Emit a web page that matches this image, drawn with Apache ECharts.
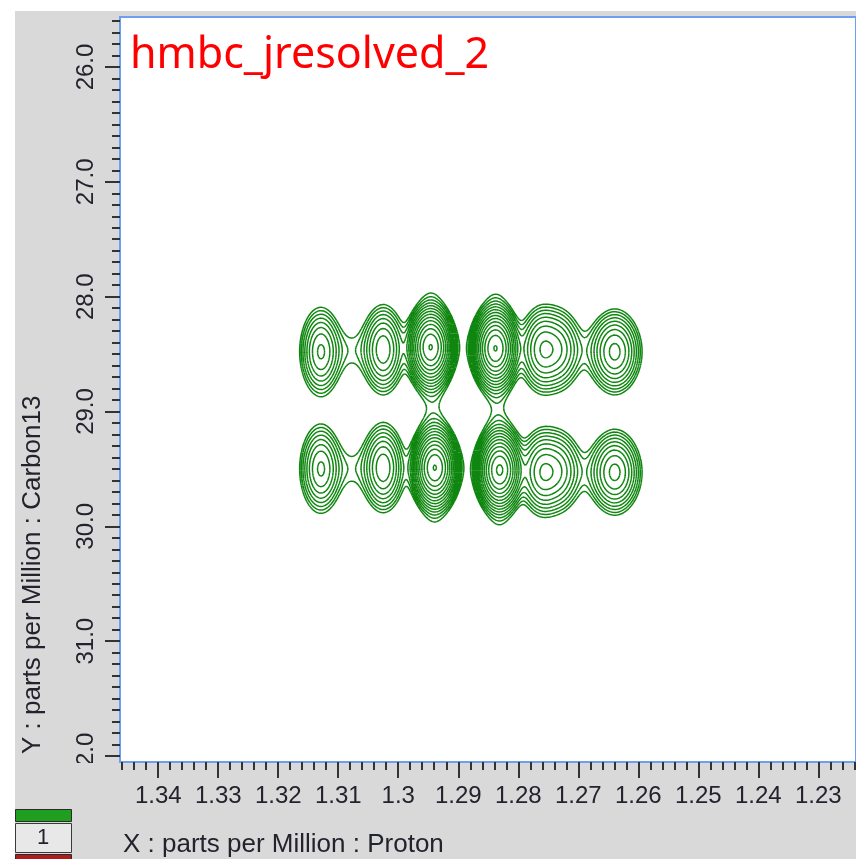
<!DOCTYPE html>
<html>
<head>
<meta charset="utf-8">
<script src="https://cdn.jsdelivr.net/npm/echarts@6/dist/echarts.min.js"></script>
<style>html,body{margin:0;padding:0;background:#fff;}#chart{width:856px;height:859px;}</style>
</head>
<body>
<div id="chart"></div>
<script>
// ---- texts ----
const chartTitle = 'hmbc_jresolved_2';
const xAxisName = 'X : parts per Million : Proton';
const yAxisName = 'Y : parts per Million : Carbon13';
const legendLabel = '1';

// ---- axes (ppm) ----
const xRange = [1.223711, 1.346373];   // visible proton range (reversed axis)
const yRange = [25.5646, 32.0523];     // visible carbon range (reversed axis)
const xTicks = [1.34, 1.33, 1.32, 1.31, 1.30, 1.29, 1.28, 1.27, 1.26, 1.25, 1.24, 1.23];
const xTickLabels = ['1.34', '1.33', '1.32', '1.31', '1.3', '1.29', '1.28', '1.27', '1.26', '1.25', '1.24', '1.23'];
const yTicks = [26, 27, 28, 29, 30, 31, 32];
const yTickLabels = ['26.0', '27.0', '28.0', '29.0', '30.0', '31.0', '32.0'];
const xMinorStep = 0.002;
const yMinorStep = 0.1;

// ---- cross peaks (ppm, relative intensity, widths in ppm, Lorentzian share) ----
// two rows (28.5 / 29.5 ppm) of multiplet components, plus weak bridges between the outer components
const peakX    = [1.3129, 1.3025, 1.2946, 1.2838, 1.2760, 1.2730, 1.2639, 1.3078, 1.2688,
                  1.3129, 1.3025, 1.2939, 1.2831, 1.2760, 1.2730, 1.2639, 1.3078, 1.2688];
const peakY    = [28.48, 28.46, 28.44, 28.45, 28.46, 28.46, 28.48, 28.47, 28.47,
                  29.50, 29.49, 29.49, 29.51, 29.53, 29.52, 29.53, 29.50, 29.53];
const peakAmp  = [8.5, 10, 50, 50, 10, 6, 12, 1.0, 0.6,
                  8.5, 10, 50, 52, 10, 6, 12, 1.0, 0.6];
const peakWx   = [0.00168, 0.00168, 0.0016, 0.0016, 0.0018, 0.0018, 0.0020, 0.0025, 0.0025,
                  0.00168, 0.00168, 0.0016, 0.0016, 0.0018, 0.0018, 0.0020, 0.0025, 0.0025];
const peakWy   = [0.185, 0.18, 0.148, 0.148, 0.175, 0.175, 0.165, 0.15, 0.15,
                  0.185, 0.18, 0.148, 0.148, 0.175, 0.175, 0.165, 0.15, 0.15];
const peakLorX = [0.05, 0.05, 0.05, 0.05, 0.05, 0.05, 0.05, 0.05, 0.05,
                  0.05, 0.05, 0.05, 0.05, 0.05, 0.05, 0.05, 0.05, 0.05];
const peakLorY = [0.05, 0.05, 0.15, 0.15, 0.05, 0.05, 0.05, 0.05, 0.05,
                  0.05, 0.05, 0.15, 0.15, 0.05, 0.05, 0.05, 0.05, 0.05];
// contour levels (relative intensity)
const contourLevels = [1, 1.35, 1.82, 2.46, 3.32, 4.48, 6.05, 8.17, 11.0, 14.9, 20.1, 27.1, 36.6, 49.4];
// region sampled for contouring (ppm)
const sampleX = [1.248, 1.328];
const sampleY = [27.55, 30.45];
const sampleNx = 330, sampleNy = 230;

// ---- build contour segments ----
function intensity(x, y) {
  let s = 0;
  for (let i = 0; i < peakX.length; i++) {
    const dx = (x - peakX[i]) / peakWx[i];
    const dy = (y - peakY[i]) / peakWy[i];
    const ex = peakLorX[i], ey = peakLorY[i];
    const fx = (1 - ex) * Math.exp(-0.5 * dx * dx) + ex / (1 + dx * dx);
    const fy = (1 - ey) * Math.exp(-0.5 * dy * dy) + ey / (1 + dy * dy);
    s += peakAmp[i] * fx * fy;
  }
  return s;
}
const gx = [], gy = [];
for (let i = 0; i <= sampleNx; i++) gx.push(sampleX[0] + (sampleX[1] - sampleX[0]) * i / sampleNx);
for (let j = 0; j <= sampleNy; j++) gy.push(sampleY[0] + (sampleY[1] - sampleY[0]) * j / sampleNy);
const grid = [];
for (let j = 0; j <= sampleNy; j++) {
  const row = new Float64Array(sampleNx + 1);
  for (let i = 0; i <= sampleNx; i++) row[i] = intensity(gx[i], gy[j]);
  grid.push(row);
}
const segments = [];
function lerp(p, q, a, b, L) { return p + (q - p) * (L - a) / (b - a); }
for (const L of contourLevels) {
  for (let j = 0; j < sampleNy; j++) {
    for (let i = 0; i < sampleNx; i++) {
      const a = grid[j][i], b = grid[j][i + 1], c = grid[j + 1][i + 1], d = grid[j + 1][i];
      const ia = a > L, ib = b > L, ic = c > L, id = d > L;
      if (ia === ib && ib === ic && ic === id) continue;
      const x0 = gx[i], x1 = gx[i + 1], y0 = gy[j], y1 = gy[j + 1];
      const e = [null, null, null, null];
      if (ia !== ib) e[0] = [lerp(x0, x1, a, b, L), y0];
      if (ib !== ic) e[1] = [x1, lerp(y0, y1, b, c, L)];
      if (ic !== id) e[2] = [lerp(x1, x0, c, d, L), y1];
      if (id !== ia) e[3] = [x0, lerp(y1, y0, d, a, L)];
      const pts = e.filter(p => p);
      if (pts.length === 2) {
        segments.push({ coords: [pts[0], pts[1]] });
      } else if (pts.length === 4) {
        const center = (a + b + c + d) / 4 > L;
        if (ia === center) {
          segments.push({ coords: [e[0], e[1]] });
          segments.push({ coords: [e[2], e[3]] });
        } else {
          segments.push({ coords: [e[3], e[0]] });
          segments.push({ coords: [e[1], e[2]] });
        }
      }
    }
  }
}

// minor tick values
const xMinor = [];
for (let k = Math.ceil(xRange[0] / xMinorStep); k * xMinorStep <= xRange[1]; k++) xMinor.push(+(k * xMinorStep).toFixed(4));
const yMinor = [];
for (let k = Math.ceil(yRange[0] / yMinorStep); k * yMinorStep <= yRange[1]; k++) yMinor.push(+(k * yMinorStep).toFixed(2));

const labelFont = 'Liberation Sans';
const textColor = '#23232e';
const tickStyle = { color: '#333', width: 2 };

const chart = echarts.init(document.getElementById('chart'), null, { renderer: 'canvas' });
chart.setOption({
  animation: false,
  backgroundColor: '#d9d9d9',
  grid: {
    left: 120, top: 17, right: -5, bottom: 97,
    show: true, backgroundColor: '#ffffff', borderColor: '#6c9ef2', borderWidth: 2
  },
  xAxis: [
    {
      type: 'value', position: 'bottom', inverse: true, min: xRange[0], max: xRange[1],
      axisLine: { show: false }, splitLine: { show: false },
      axisTick: { show: true, customValues: xTicks, length: 16, lineStyle: tickStyle },
      axisLabel: {
        customValues: xTicks, margin: 22, fontSize: 24, fontFamily: labelFont, color: textColor,
        formatter: v => { const k = xTicks.findIndex(t => Math.abs(t - v) < 1e-6); return k >= 0 ? xTickLabels[k] : ''; }
      }
    },
    {
      type: 'value', position: 'bottom', inverse: true, min: xRange[0], max: xRange[1],
      axisLine: { show: false }, splitLine: { show: false }, axisLabel: { show: false },
      axisTick: { show: true, customValues: xMinor, length: 8, lineStyle: tickStyle }
    }
  ],
  yAxis: [
    {
      type: 'value', position: 'left', inverse: true, min: yRange[0], max: yRange[1],
      axisLine: { show: false }, splitLine: { show: false },
      axisTick: { show: true, customValues: yTicks, length: 15, lineStyle: tickStyle },
      axisLabel: {
        customValues: yTicks, rotate: 90, margin: 22, fontSize: 24, fontFamily: labelFont, color: textColor,
        formatter: v => { const k = yTicks.findIndex(t => Math.abs(t - v) < 1e-6); return k >= 0 ? yTickLabels[k] : ''; }
      }
    },
    {
      type: 'value', position: 'left', inverse: true, min: yRange[0], max: yRange[1],
      axisLine: { show: false }, splitLine: { show: false }, axisLabel: { show: false },
      axisTick: { show: true, customValues: yMinor, length: 8, lineStyle: tickStyle }
    }
  ],
  series: [{
    type: 'lines',
    coordinateSystem: 'cartesian2d',
    xAxisIndex: 0, yAxisIndex: 0,
    polyline: false,
    large: true, largeThreshold: 100,
    progressive: 0,
    silent: true,
    lineStyle: { color: '#0f860f', width: 1.5, opacity: 1 },
    data: segments
  }],
  graphic: [
    { type: 'rect', shape: { x: 0, y: 0, width: 856, height: 11 }, style: { fill: '#ffffff' }, z: 50 },
    { type: 'rect', shape: { x: 0, y: 0, width: 15, height: 859 }, style: { fill: '#ffffff' }, z: 50 },
    { type: 'rect', shape: { x: 60, y: 763, width: 57, height: 22 }, style: { fill: '#d9d9d9' }, z: 50 },
    { type: 'text', x: 130, y: 56, z: 60,
      style: { text: chartTitle, fill: '#ff0000', font: '43px "Noto Sans"', align: 'left', verticalAlign: 'middle', textAlign: 'left', textVerticalAlign: 'middle' } },
    { type: 'text', x: 33, y: 754, rotation: Math.PI / 2, z: 60,
      style: { text: yAxisName, fill: textColor, font: '26px "Liberation Sans"', align: 'left', verticalAlign: 'middle', textAlign: 'left', textVerticalAlign: 'middle' } },
    { type: 'text', x: 123, y: 845, z: 60,
      style: { text: xAxisName, fill: textColor, font: '26px "Liberation Sans"', align: 'left', verticalAlign: 'middle', textAlign: 'left', textVerticalAlign: 'middle' } },
    { type: 'rect', z: 60, shape: { x: 15.5, y: 809.5, width: 56, height: 12 }, style: { fill: '#1f9e1f', stroke: '#2a2a2a', lineWidth: 1 } },
    { type: 'rect', z: 60, shape: { x: 15.5, y: 823.5, width: 56, height: 29 }, style: { fill: '#e8e8e8', stroke: '#3a3a3a', lineWidth: 1 } },
    { type: 'text', x: 43, y: 838, z: 61,
      style: { text: legendLabel, fill: textColor, font: '22px "Liberation Sans"', align: 'center', verticalAlign: 'middle', textAlign: 'center', textVerticalAlign: 'middle' } },
    { type: 'rect', z: 60, shape: { x: 15.5, y: 854.5, width: 56, height: 8 }, style: { fill: '#b01c1c', stroke: '#2a2a2a', lineWidth: 1 } }
  ]
});
</script>
</body>
</html>
